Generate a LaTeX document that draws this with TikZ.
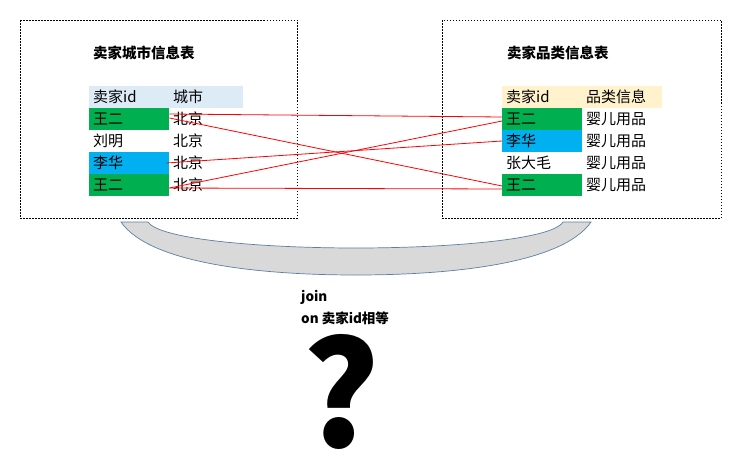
\documentclass[tikz,border=0pt]{standalone}
\usepackage{fontspec}
\setmainfont{Noto Sans CJK SC}
\definecolor{hdrblue}{HTML}{DDEBF7}
\definecolor{hdrorange}{HTML}{FFF2CC}
\definecolor{idgreen}{HTML}{00B050}
\definecolor{idblue}{HTML}{00B0F0}
\definecolor{arcline}{HTML}{5B7FA6}
\definecolor{arcfill}{HTML}{D9D9D9}
\begin{document}
\begin{tikzpicture}[x=1pt,y=-1pt]
\tikzstyle{every node} = [inner sep=0, font=\fontsize{15}{17}\selectfont]
\tikzstyle{cell} = [anchor=west, minimum height=22, text width=72, inner xsep=4, align=left]
\tikzstyle{title} = [anchor=west, font=\fontsize{14.5}{17}\selectfont\bfseries]
\tikzstyle{box} = [draw, line width=0.8, dash pattern=on 1.5pt off 1.5pt]
\tikzstyle{link} = [draw, red, line width=0.8]
\tikzstyle{bowl} = [draw=arcline, fill=arcfill, line width=0.7]
\tikzstyle{cond} = [anchor=base west, font=\fontsize{13.5}{15}\selectfont\bfseries]
\useasboundingbox (0,0) rectangle (745,466);
\draw[box] (20,20) rectangle (297,218);
\draw[box] (442,20) rectangle (721,218);
\node[title] (L_title) at (93,53) {卖家城市信息表};
\node[title] (R_title) at (507,53) {卖家品类信息表};
\node[cell, fill=hdrblue] (L_0_0) at (89,97) {卖家id};
\node[cell, fill=hdrblue, text width=66] (L_0_1) at (169,97) {城市};
\node[cell, fill=idgreen] (L_1_0) at (89,119) {王二};
\node[cell, text width=66] (L_1_1) at (169,119) {北京};
\node[cell] (L_2_0) at (89,141) {刘明};
\node[cell, text width=66] (L_2_1) at (169,141) {北京};
\node[cell, fill=idblue] (L_3_0) at (89,163) {李华};
\node[cell, text width=66] (L_3_1) at (169,163) {北京};
\node[cell, fill=idgreen] (L_4_0) at (89,185) {王二};
\node[cell, text width=66] (L_4_1) at (169,185) {北京};
\node[cell, fill=hdrorange] (R_0_0) at (502,97) {卖家id};
\node[cell, fill=hdrorange] (R_0_1) at (582,97) {品类信息};
\node[cell, fill=idgreen] (R_1_0) at (502,119) {王二};
\node[cell] (R_1_1) at (582,119) {婴儿用品};
\node[cell, fill=idblue] (R_2_0) at (502,141) {李华};
\node[cell] (R_2_1) at (582,141) {婴儿用品};
\node[cell] (R_3_0) at (502,163) {张大毛};
\node[cell] (R_3_1) at (582,163) {婴儿用品};
\node[cell, fill=idgreen] (R_4_0) at (502,185) {王二};
\node[cell] (R_4_1) at (582,185) {婴儿用品};
\draw[link] ([yshift=5]L_1_0.east) -- ([yshift=2]R_1_0.west);
\draw[link] ([yshift=1]L_1_0.east) -- ([yshift=-1]R_4_0.west);
\draw[link] ([xshift=-3]L_3_0.east) -- (R_2_0.west);
\draw[link] ([yshift=-3]L_4_0.east) -- ([yshift=-2]R_1_0.west);
\draw[link] ([yshift=-3]L_4_0.east) -- ([yshift=-4]R_4_0.west);
\draw[bowl] (121,222) .. controls (150,264) and (262,275) .. (356,275)
  .. controls (450,275) and (562,264) .. (591,222) -- (563,222)
  .. controls (552,240) and (446,248) .. (356,248)
  .. controls (266,248) and (160,240) .. (148,222) -- cycle;
\node[cond] (join_1) at (301,301) {join};
\node[cond] (join_2) at (301,323) {on 卖家id相等};
\node[anchor=base, text depth=0, text height=106, font=\fontsize{145}{145}\selectfont\bfseries] (query) at (341,447) {?};
\end{tikzpicture}
\end{document}
